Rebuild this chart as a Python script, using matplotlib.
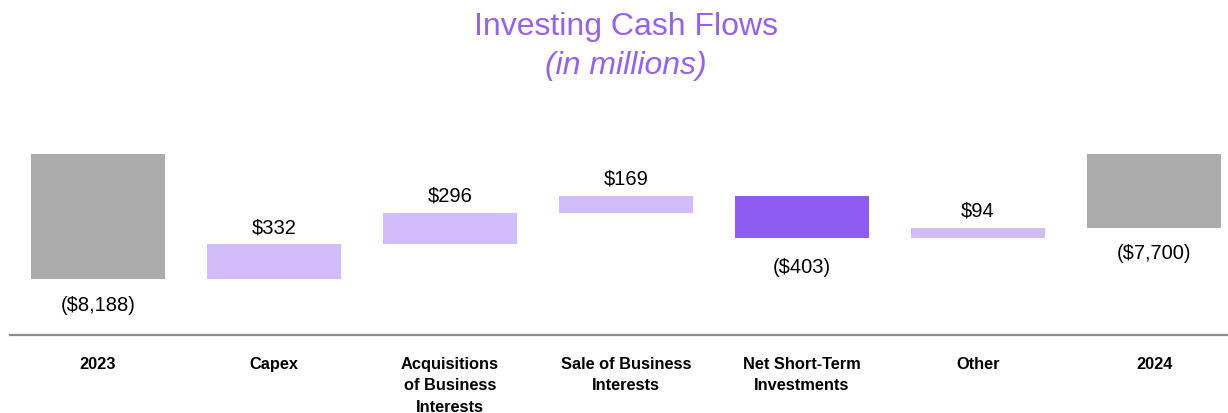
import matplotlib
matplotlib.use("Agg")
import matplotlib.pyplot as plt
import numpy as np

# %% data
categories = [
    "2023",
    "Capex",
    "Acquisitions\nof Business\nInterests",
    "Sale of Business\nInterests",
    "Net Short-Term\nInvestments",
    "Other",
    "2024",
]
start_total = -8188
changes = [332, 296, 169, -403, 94]
end_total = -7700

gray = "#ababab"
light_purple = "#d1bcf9"
dark_purple = "#8e5cf3"
title_color = "#9461f2"

plt.rcParams["font.family"] = ["Liberation Sans", "DejaVu Sans"]


def money(v):
    s = f"${abs(v):,.0f}"
    return f"({s})" if v < 0 else s


fig = plt.figure(figsize=(12.28, 4.14), dpi=100)
ax = fig.add_axes([10 / 1228, 78 / 414, 1218 / 1228, 236 / 414])

# totals are drawn on a truncated scale, tops sit at a common level
total_top = -7000
width = 0.76
x = np.arange(len(categories))
value_fs = 14.5

# start total
ax.bar(x[0], start_total - total_top, bottom=total_top, width=width, color=gray)
ax.annotate(money(start_total), (x[0], start_total), xytext=(0, -11),
            textcoords="offset points", ha="center", va="top", fontsize=value_fs)

level = start_total
for i, c in enumerate(changes, start=1):
    color = light_purple if c > 0 else dark_purple
    ax.bar(x[i], c, bottom=level, width=width, color=color)
    if c > 0:
        ax.annotate(money(c), (x[i], level + c), xytext=(0, 6),
                    textcoords="offset points", ha="center", va="bottom", fontsize=value_fs)
    else:
        ax.annotate(money(c), (x[i], level + c), xytext=(0, -14),
                    textcoords="offset points", ha="center", va="top", fontsize=value_fs)
    level += c

# end total
ax.bar(x[6], end_total - total_top, bottom=total_top, width=width, color=gray)
ax.annotate(money(end_total), (x[6], end_total), xytext=(0, -11),
            textcoords="offset points", ha="center", va="top", fontsize=value_fs)

ax.set_xlim(-0.5, 6.42)
ax.set_ylim(-8716, -6474)
for s in ["top", "left", "right"]:
    ax.spines[s].set_visible(False)
ax.spines["bottom"].set_color("#8c8c8c")
ax.spines["bottom"].set_linewidth(1.6)
ax.set_yticks([])
ax.set_xticks(x)
ax.set_xticklabels(categories, fontsize=11.8, fontweight="bold", linespacing=1.55, va="top")
ax.tick_params(axis="x", length=0, pad=15)

fig.text(626 / 1228, 1 - 27 / 414, "Investing Cash Flows", ha="center", va="center",
         fontsize=23, color=title_color)
fig.text(626 / 1228, 1 - 66 / 414, "(in millions)", ha="center", va="center",
         fontsize=23, color=title_color, style="italic")

fig.savefig("out.png", dpi=100)
